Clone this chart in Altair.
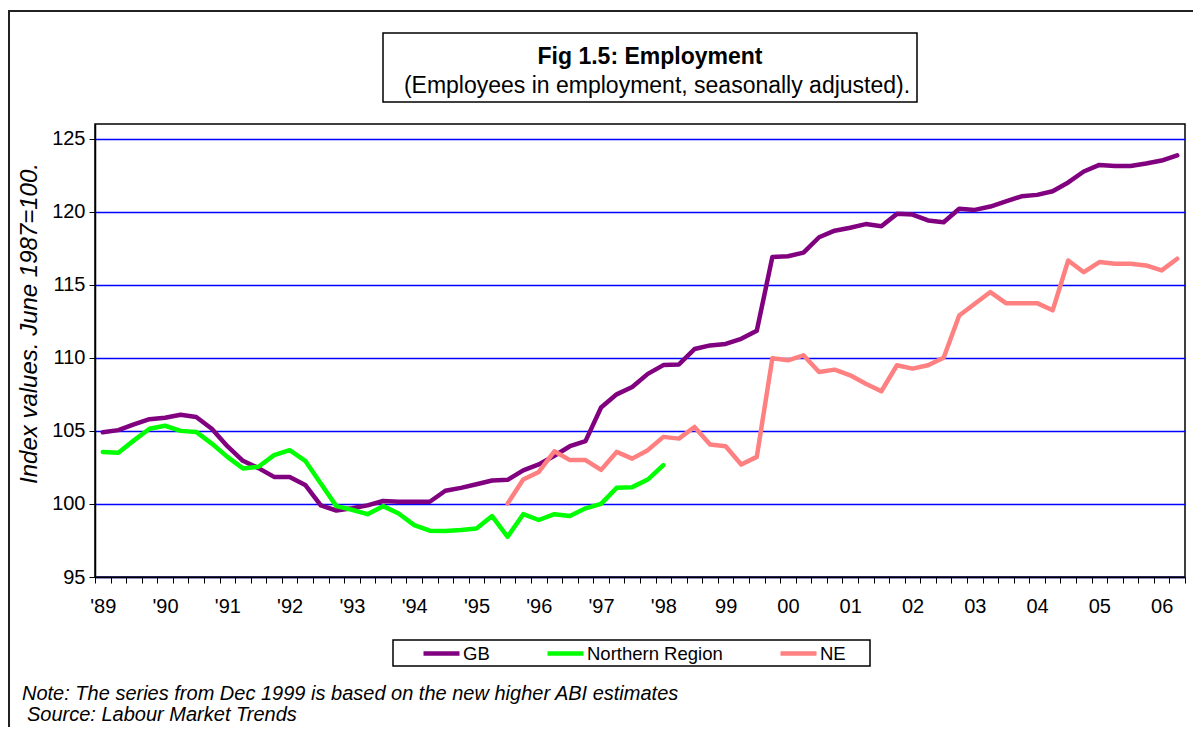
import json
import altair as alt
import pandas as pd

# ---------------- data ----------------
series_names = ["GB", "Northern Region", "NE"]
series_colors = ["#800080", "#00FF00", "#FF8080"]

year_labels = ["'89", "'90", "'91", "'92", "'93", "'94", "'95", "'96", "'97",
               "'98", "99", "00", "01", "02", "03", "04", "05", "06"]

# quarterly values, Mar 1989 .. Jun 2006
gb = [104.9, 105.05, 105.45, 105.8, 105.9, 106.1, 105.95, 105.15, 103.95, 102.95,
      102.45, 101.85, 101.85, 101.3, 99.9, 99.55, 99.7, 99.9, 100.2, 100.15,
      100.15, 100.15, 100.9, 101.1, 101.35, 101.6, 101.65, 102.3, 102.7, 103.3,
      103.95, 104.3, 106.6, 107.5, 108.0, 108.9, 109.5, 109.55, 110.6, 110.85,
      110.95, 111.3, 111.85, 116.9, 116.95, 117.2, 118.25, 118.7, 118.9, 119.15,
      119.0, 119.85, 119.8, 119.4, 119.28, 120.2, 120.12, 120.35, 120.7, 121.05,
      121.15, 121.4, 122.0, 122.75, 123.2, 123.13, 123.13, 123.3, 123.5, 123.85]

# Northern Region: Mar 1989 .. Mar 1998
northern = [103.56, 103.5, 104.35, 105.15, 105.35, 105.0, 104.93, 104.13, 103.22, 102.43,
            102.54, 103.34, 103.68, 102.95, 101.4, 99.85, 99.6, 99.3, 99.85, 99.35,
            98.55, 98.17, 98.14, 98.21, 98.32, 99.17, 97.75, 99.3, 98.9, 99.3,
            99.17, 99.7, 100.0, 101.1, 101.15, 101.67, 102.65]

# NE: Sep 1995 .. Jun 2006
ne_start = 26
ne = [100.03, 101.67, 102.19, 103.6, 103.0, 103.0, 102.33, 103.56, 103.1, 103.68,
      104.59, 104.47, 105.27, 104.07, 103.95, 102.7, 103.22, 109.97, 109.83, 110.17,
      109.03, 109.19, 108.8, 108.23, 107.71, 109.49, 109.26, 109.49, 110.0, 112.9,
      113.7, 114.5, 113.74, 113.74, 113.74, 113.25, 116.66, 115.86, 116.55, 116.44,
      116.44, 116.32, 115.98, 116.78]

y_ticks = [95, 100, 105, 110, 115, 120, 125]

title_text = "Fig 1.5: Employment"
subtitle_text = "(Employees in employment, seasonally adjusted)."
y_title = "Index values. June 1987=100."
note_text = "Note: The series from Dec 1999 is based on the new higher ABI estimates"
source_text = "Source: Labour Market Trends"

# ---------------- table ----------------
rows = []
for i, v in enumerate(gb):
    rows.append({"q": i, "value": v, "series": "GB"})
for i, v in enumerate(northern):
    rows.append({"q": i, "value": v, "series": "Northern Region"})
for i, v in enumerate(ne):
    rows.append({"q": ne_start + i, "value": v, "series": "NE"})
df = pd.DataFrame(rows)

# ---------------- layout ----------------
W, H = 1090, 453
n = len(gb)
step = W / n
FONT = "Liberation Sans"

tick_vals = [i - 0.5 for i in range(n + 1)]
label_expr = json.dumps(year_labels) + "[(datum.value + 0.5) / 4] || ''"

one = pd.DataFrame({"k": [0]})

outer = alt.Chart(one).mark_rect(fillOpacity=0, stroke="#222222", strokeWidth=2).encode(
    x=alt.value(-86), x2=alt.value(1300), y=alt.value(-113), y2=alt.value(900)
)

title_box = alt.Chart(one).mark_rect(fill="white", stroke="black", strokeWidth=1.5).encode(
    x=alt.value(288), x2=alt.value(822), y=alt.value(-91), y2=alt.value(-22)
)
title_mark = alt.Chart(one).mark_text(
    font=FONT, fontSize=23, fontWeight="bold", align="center", baseline="alphabetic"
).encode(x=alt.value(555), y=alt.value(-60), text=alt.value(title_text))
subtitle_mark = alt.Chart(one).mark_text(
    font=FONT, fontSize=23, align="center", baseline="alphabetic"
).encode(x=alt.value(562), y=alt.value(-31), text=alt.value(subtitle_text))

legend_box = alt.Chart(one).mark_rect(fill="white", stroke="black", strokeWidth=1.5).encode(
    x=alt.value(298), x2=alt.value(775), y=alt.value(516), y2=alt.value(542)
)

note_mark = alt.Chart(one).mark_text(
    font=FONT, fontSize=20, fontStyle="italic", align="left", baseline="alphabetic"
).encode(x=alt.value(-73), y=alt.value(576), text=alt.value(note_text))
source_mark = alt.Chart(one).mark_text(
    font=FONT, fontSize=20, fontStyle="italic", align="left", baseline="alphabetic"
).encode(x=alt.value(-68), y=alt.value(597), text=alt.value(source_text))

lines = alt.Chart(df).mark_line(strokeWidth=4.5, strokeJoin="round", strokeCap="round").encode(
    x=alt.X(
        "q:Q",
        scale=alt.Scale(domain=[-0.5, n - 0.5], nice=False, zero=False),
        axis=alt.Axis(
            values=tick_vals, labelExpr=label_expr, labelOffset=step / 2,
            title=None, grid=False, tickSize=6, tickColor="black", tickWidth=1,
            domainColor="black", domainWidth=1.5, labelPadding=13,
            labelFontSize=20, labelFont=FONT, labelColor="black",
            labelOverlap=False, labelFlush=False,
        ),
    ),
    y=alt.Y(
        "value:Q",
        scale=alt.Scale(domain=[95, 126], nice=False, zero=False),
        axis=alt.Axis(
            values=y_ticks, grid=True, gridColor="#0000FF", gridWidth=1.3, gridOpacity=1,
            tickSize=6, tickColor="black", domainColor="black", domainWidth=1.5,
            labelPadding=4, labelFontSize=20, labelFont=FONT, labelColor="black",
            title=y_title, titleFont=FONT, titleFontSize=24, titleFontStyle="italic",
            titleFontWeight="normal", titleColor="black", titleAngle=270,
            titleX=-66, titleY=199, titleAlign="center", titleBaseline="middle",
        ),
    ),
    color=alt.Color(
        "series:N",
        scale=alt.Scale(domain=series_names, range=series_colors),
        sort=series_names,
        legend=alt.Legend(
            title=None, orient="none", legendX=326, legendY=509, direction="horizontal",
            symbolType="stroke", symbolSize=1296, symbolStrokeWidth=4.5,
            labelFont=FONT, labelFontSize=18.5, labelColor="black", labelOffset=1,
            columnPadding=48,
        ),
    ),
    order=alt.value(0),
)

chart = alt.layer(
    outer, title_box, title_mark, subtitle_mark, legend_box, lines, note_mark, source_mark
).properties(
    width=W, height=H,
    autosize=alt.AutoSizeParams(type="none"),
    padding={"left": 87, "top": 116, "right": 8, "bottom": 150},
    background="white",
).configure_view(stroke="black", strokeWidth=1.5)

chart.save("out.html", embed_options={"renderer": "svg", "actions": False})
